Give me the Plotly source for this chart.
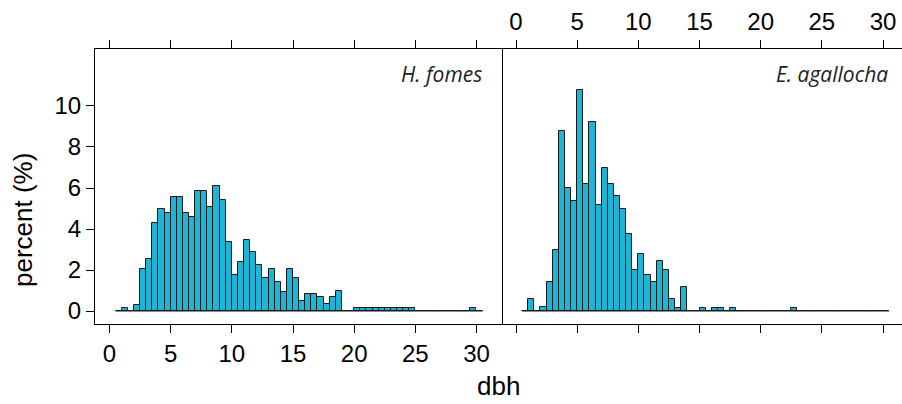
import plotly.graph_objects as go

# ---- data ----
bin_edges = [0.5 + 0.5 * i for i in range(61)]  # dbh histogram breaks, width 0.5

hf_pct = [0, 0.15, 0, 0.3, 2.05, 2.54, 4.29, 4.96, 4.76, 5.54,
          5.54, 4.8, 4.6, 5.87, 5.87, 5.06, 6.08, 5.43, 3.35, 1.76,
          2.37, 3.46, 2.88, 2.24, 1.63, 2.07, 1.43, 0.94, 2.07, 1.63,
          0.49, 0.81, 0.81, 0.67, 0.34, 0.67, 0.96, 0, 0, 0.15,
          0.15, 0.15, 0.15, 0.15, 0.15, 0.15, 0.15, 0.15, 0.15, 0,
          0, 0, 0, 0, 0, 0, 0, 0, 0.15, 0]

ea_pct = [0, 0.59, 0, 0.18, 1.43, 3.0, 8.8, 5.98, 5.37, 10.77,
          6.19, 9.2, 5.18, 6.97, 6.2, 5.6, 5.0, 3.78, 1.99, 2.76,
          1.76, 1.43, 2.44, 2.0, 0.59, 0.17, 1.18, 0, 0, 0.15,
          0, 0.15, 0.15, 0, 0.15, 0, 0, 0, 0, 0,
          0, 0, 0, 0, 0.15, 0, 0, 0, 0, 0,
          0, 0, 0, 0, 0, 0, 0, 0, 0, 0]

x_ticks = [0, 5, 10, 15, 20, 25, 30]
y_ticks = [0, 2, 4, 6, 8, 10]
panel_names = ["H. fomes", "E. agallocha"]
x_title = "dbh"
y_title = "percent (%)"

# ---- styling ----
BAR = "#1DB5D6"
EDGE = "#1a1a1a"
TICKFONT = dict(family="Liberation Sans, Arial, sans-serif", size=24, color="black")
TITLEFONT = dict(family="Liberation Sans, Arial, sans-serif", size=26, color="black")
STRIPFONT = dict(family="Open Sans, sans-serif", size=21, color="#222222")

centers = [(a + b) / 2 for a, b in zip(bin_edges[:-1], bin_edges[1:])]
widths = [b - a for a, b in zip(bin_edges[:-1], bin_edges[1:])]

fig = go.Figure()
for vals, xa, ya in [(hf_pct, "x", "y"), (ea_pct, "x2", "y2")]:
    fig.add_trace(go.Bar(x=centers, y=vals, width=widths, xaxis=xa, yaxis=ya,
                         marker=dict(color=BAR, line=dict(color=EDGE, width=1)),
                         showlegend=False, hoverinfo="x+y"))
    fig.add_trace(go.Scatter(x=[bin_edges[0], bin_edges[-1]], y=[0, 0], xaxis=xa, yaxis=ya,
                             mode="lines", line=dict(color=EDGE, width=1),
                             showlegend=False, hoverinfo="skip"))

W, H = 902, 404
ml, mr, mt, mb = 95, 0, 49, 80
pw = W - ml - mr
ph = H - mt - mb
split = 407 / pw

axis_common = dict(showgrid=False, zeroline=False, showline=True, linecolor="black",
                   linewidth=1, ticks="outside", ticklen=8, tickwidth=1, tickcolor="black",
                   tickfont=TICKFONT, automargin=False)

fig.update_layout(
    width=W, height=H,
    margin=dict(l=ml, r=mr, t=mt, b=mb, autoexpand=False),
    paper_bgcolor="white", plot_bgcolor="white",
    bargap=0,
    xaxis=dict(domain=[0, split], range=[-1.185, 32.085], tickvals=x_ticks,
               mirror="ticks", anchor="y", **axis_common),
    xaxis2=dict(domain=[split, 1], range=[-1.144, 31.55], tickvals=x_ticks,
                side="top", mirror="ticks", anchor="y2", **axis_common),
    yaxis=dict(domain=[0, 1], range=[-0.634, 12.78], tickvals=y_ticks,
               mirror=True, anchor="x", **axis_common),
    yaxis2=dict(domain=[0, 1], range=[-0.634, 12.78], anchor="x2",
                showline=False, showgrid=False, zeroline=False,
                showticklabels=False, ticks="", automargin=False),
    annotations=[
        dict(text="<i>%s</i>" % panel_names[0], xref="x", yref="paper", x=30.65, y=(324 - 74) / ph,
             xanchor="right", yanchor="middle", showarrow=False, font=STRIPFONT),
        dict(text="<i>%s</i>" % panel_names[1], xref="x2", yref="paper", x=30.6, y=(324 - 74) / ph,
             xanchor="right", yanchor="middle", showarrow=False, font=STRIPFONT),
        dict(text=y_title, xref="paper", yref="paper", x=(23 - ml) / pw, y=(324 - 220) / ph,
             textangle=-90, xanchor="center", yanchor="middle", showarrow=False, font=TITLEFONT),
        dict(text=x_title, xref="paper", yref="paper", x=(498 - ml) / pw, y=(324 - 386) / ph,
             xanchor="center", yanchor="middle", showarrow=False, font=TITLEFONT),
    ],
)

fig.write_html("out.html", config={"displayModeBar": False},
               post_script="document.body.style.margin='0';document.body.style.overflow='hidden';")
